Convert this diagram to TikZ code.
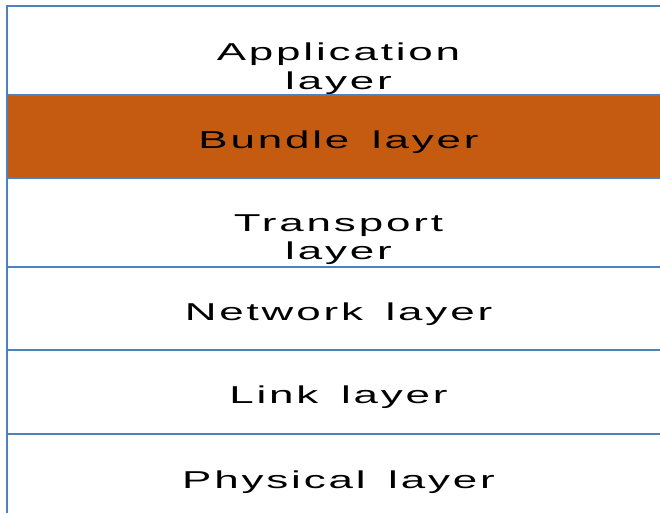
\documentclass[tikz,border=0pt]{standalone}
\usepackage{graphicx}
\usepackage{fontspec}
\setmainfont{Liberation Sans}[LetterSpace=6.5,WordSpace=1.5]
\usetikzlibrary{positioning}
\definecolor{layerline}{HTML}{4F81BD}
\definecolor{bundlefill}{HTML}{C55A11}
\newcommand{\wide}[1]{\scalebox{1.8}[1]{#1}}

\begin{document}
\begin{tikzpicture}[node distance=0pt]
    \tikzstyle{layer} = [rectangle, draw=layerline, line width=1.6pt,
    minimum width=497.25pt, inner sep=0pt, outer sep=0pt]
    \tikzstyle{caption} = [anchor=north, inner sep=0pt, align=center,
    font=\fontsize{18.3}{21.6}\selectfont]
    \useasboundingbox (0,0) rectangle (495pt,-384pt);
    % the stack of layers, top to bottom
    \node [layer, minimum height=66.75pt, anchor=north west] (app) at (5.25pt,-4.5pt) {};
    \node [layer, fill=bundlefill, minimum height=62.25pt, below=of app] (bundle) {};
    \node [layer, minimum height=66.75pt, below=of bundle] (transport) {};
    \node [layer, minimum height=62.25pt, below=of transport] (network) {};
    \node [layer, minimum height=63pt, below=of network] (link) {};
    \node [layer, minimum height=63pt, below=of link] (physical) {};
    % layer names
    \node [caption] (apptext) at ([yshift=-27.75pt]app.north) {\wide{Application}\\\wide{layer}};
    \node [caption] (bundletext) at ([yshift=-27pt]bundle.north) {\wide{Bundle layer}};
    \node [caption] (transporttext) at ([yshift=-27pt]transport.north) {\wide{Transport}\\\wide{layer}};
    \node [caption] (networktext) at ([yshift=-27pt]network.north) {\wide{Network layer}};
    \node [caption] (linktext) at ([yshift=-27pt]link.north) {\wide{Link layer}};
    \node [caption] (physicaltext) at ([yshift=-27.5pt]physical.north) {\wide{Physical layer}};
\end{tikzpicture}
\end{document}
